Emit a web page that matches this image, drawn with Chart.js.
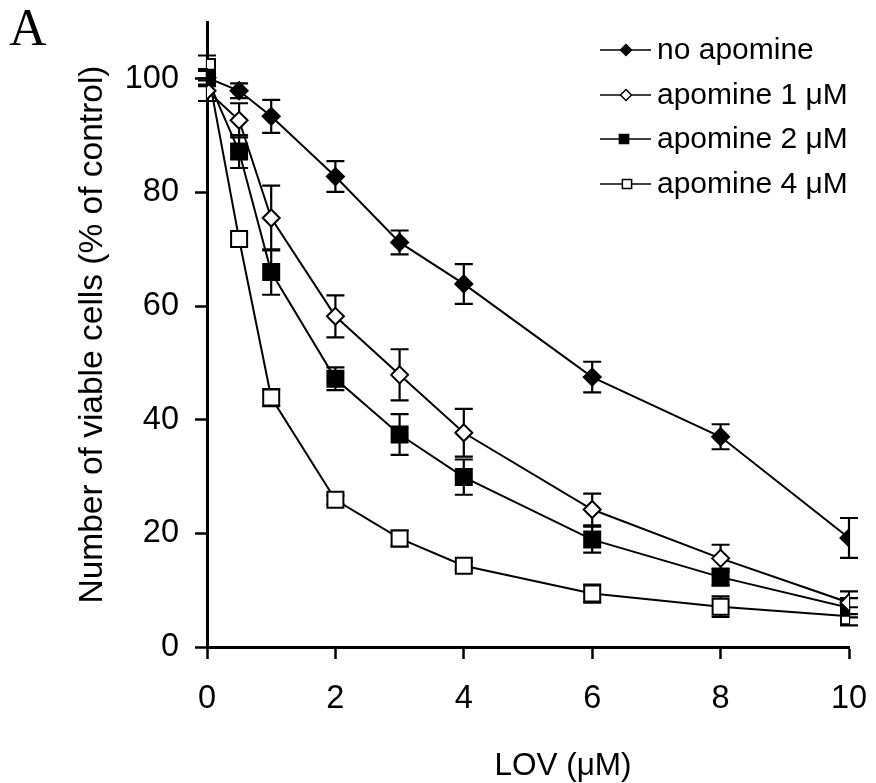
<!DOCTYPE html>
<html><head><meta charset="utf-8">
<script src="https://cdn.jsdelivr.net/npm/chart.js@4.4.1/dist/chart.umd.min.js"></script>
<style>html,body{margin:0;padding:0;background:#fff}</style>
</head><body>
<canvas id="c" width="876" height="783"></canvas>
<script>
// ---- data ----
const lov = [0, 0.5, 1, 2, 3, 4, 6, 8, 10];
const noApo    = [100.2, 97.9, 93.4, 82.8, 71.2, 63.9, 47.5, 37.0, 19.2];
const noApoErr = [1.2, 1.3, 2.9, 2.7, 2.1, 3.5, 2.7, 2.2, 3.5];
const apo1     = [97.9, 92.7, 75.5, 58.2, 47.9, 37.7, 24.2, 15.6, 7.8];
const apo1Err  = [1.8, 3.0, 5.7, 3.7, 4.5, 4.2, 2.8, 2.4, 2.0];
const apo2     = [100.2, 87.2, 66.0, 47.2, 37.4, 29.9, 18.9, 12.3, 6.9];
const apo2Err  = [1.5, 2.9, 4.0, 2.0, 3.6, 3.1, 2.3, 1.5, 1.7];
const apo4     = [102.1, 71.8, 43.9, 25.9, 19.1, 14.3, 9.4, 7.1, 5.4];
const apo4Err  = [2.0, 1.0, 1.5, 0.8, 1.4, 0.7, 1.6, 1.8, 1.6];
const seriesNames = ['no apomine', 'apomine 1 \u03bcM', 'apomine 2 \u03bcM', 'apomine 4 \u03bcM'];
const xTicks = [0, 2, 4, 6, 8, 10];
const yTicks = [0, 20, 40, 60, 80, 100];
const xTitle = 'LOV (\u03bcM)';
const yTitle = 'Number of viable cells (% of control)';
const panelLabel = 'A';

const FONT = "'Liberation Sans', Arial, sans-serif";
const values = [noApo, apo1, apo2, apo4];
const errors = [noApoErr, apo1Err, apo2Err, apo4Err];
const styles = [
  {pointStyle: 'rectRot', radius: 8.5, fill: '#000'},
  {pointStyle: 'rectRot', radius: 8.5, fill: '#fff'},
  {pointStyle: 'rect', radius: 11.3, fill: '#000'},
  {pointStyle: 'rect', radius: 11.3, fill: '#fff'}
];

const datasets = values.map((vals, i) => ({
  label: seriesNames[i],
  data: lov.map((x, j) => ({x: x, y: vals[j]})),
  errs: errors[i],
  borderColor: '#000',
  borderWidth: 2,
  backgroundColor: styles[i].fill,
  pointStyle: styles[i].pointStyle,
  pointRadius: styles[i].radius,
  pointBorderColor: '#000',
  pointBackgroundColor: styles[i].fill,
  pointBorderWidth: 2,
  tension: 0,
  fill: false
}));

const errorBars = {
  id: 'errorBars',
  beforeDatasetsDraw(chart) {
    const ctx = chart.ctx, ys = chart.scales.y;
    ctx.save();
    ctx.strokeStyle = '#000';
    ctx.lineWidth = 2.2;
    chart.data.datasets.forEach((ds, i) => {
      const meta = chart.getDatasetMeta(i);
      meta.data.forEach((pt, j) => {
        const v = ds.data[j].y, e = ds.errs[j];
        const yt = ys.getPixelForValue(v + e), yb = ys.getPixelForValue(v - e);
        const x = pt.x, w = 9;
        ctx.beginPath();
        ctx.moveTo(x, yt); ctx.lineTo(x, yb);
        ctx.moveTo(x - w, yt); ctx.lineTo(x + w, yt);
        ctx.moveTo(x - w, yb); ctx.lineTo(x + w, yb);
        ctx.stroke();
      });
    });
    ctx.restore();
  }
};

function drawMarker(ctx, style, r, x, y, fill) {
  ctx.beginPath();
  if (style === 'rectRot') {
    ctx.moveTo(x, y - r); ctx.lineTo(x + r, y); ctx.lineTo(x, y + r); ctx.lineTo(x - r, y); ctx.closePath();
  } else {
    const s = r * Math.SQRT1_2;
    ctx.rect(x - s, y - s, 2 * s, 2 * s);
  }
  ctx.fillStyle = fill; ctx.fill();
  ctx.stroke();
}

const customLegend = {
  id: 'customLegend',
  afterDraw(chart) {
    const ctx = chart.ctx;
    ctx.save();
    const rows = [50, 95, 139, 184];
    const mx = [626, 626, 624, 627];
    const mr = [5.5, 5.5, 6.5, 6.5];
    rows.forEach((y, i) => {
      ctx.strokeStyle = '#000';
      ctx.lineWidth = 1.5;
      ctx.beginPath(); ctx.moveTo(600, y); ctx.lineTo(651, y); ctx.stroke();
      drawMarker(ctx, styles[i].pointStyle, mr[i], mx[i], y, styles[i].fill);
      ctx.fillStyle = '#000';
      ctx.font = '30px ' + FONT;
      ctx.textAlign = 'left';
      ctx.textBaseline = 'middle';
      ctx.fillText(seriesNames[i], 657, y + 1);
    });
    ctx.font = "52px 'Liberation Serif', 'Times New Roman', serif";
    ctx.textBaseline = 'alphabetic';
    ctx.fillText(panelLabel, 9, 45);
    ctx.restore();
  }
};

new Chart(document.getElementById('c'), {
  type: 'line',
  data: {datasets: datasets},
  options: {
    responsive: false,
    animation: false,
    devicePixelRatio: 1,
    layout: {padding: {top: 22, right: 27, bottom: 0, left: 0}},
    plugins: {legend: {display: false}, tooltip: {enabled: false}},
    scales: {
      x: {
        type: 'linear', min: 0, max: 10,
        afterBuildTicks: s => { s.ticks = xTicks.map(v => ({value: v})); },
        afterFit: s => { s.height = 136; s.paddingLeft = 0; s.paddingRight = 0; },
        ticks: {color: '#000', font: {family: FONT, size: 32.5}, padding: 21, maxRotation: 0},
        grid: {drawOnChartArea: false, drawTicks: true, tickLength: 12, tickWidth: 2.5, tickColor: '#000'},
        border: {display: true, color: '#000', width: 3},
        title: {display: true, text: '        ' + xTitle, color: '#000', font: {family: FONT, size: 31.5}, padding: {top: 0, bottom: -2}}
      },
      y: {
        type: 'linear', min: 0, max: 110,
        afterBuildTicks: s => { s.ticks = yTicks.map(v => ({value: v})); },
        afterFit: s => { s.width = 207; s.paddingTop = 0; s.paddingBottom = 0; },
        ticks: {color: '#000', font: {family: FONT, size: 32.5}, padding: 16},
        grid: {drawOnChartArea: false, drawTicks: true, tickLength: 12, tickWidth: 2.5, tickColor: '#000'},
        border: {display: true, color: '#000', width: 3},
        title: {display: true, text: yTitle, color: '#000', font: {family: FONT, size: 33.5}, padding: {top: 73, bottom: 0}}
      }
    }
  },
  plugins: [errorBars, customLegend]
});
</script>
</body></html>
